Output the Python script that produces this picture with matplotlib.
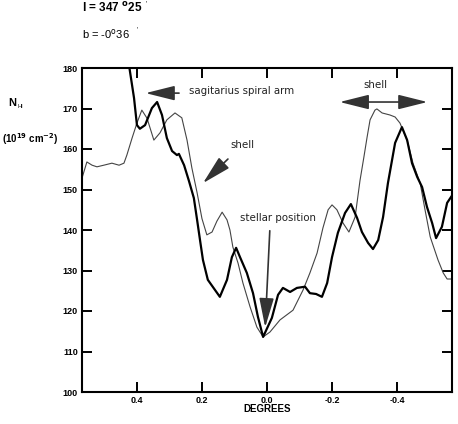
import numpy as np
import matplotlib.pyplot as plt

# thin profile (offset in degrees, N_HI in 1e19 cm^-2)
thin_x = [0.569, 0.554, 0.538, 0.523, 0.502, 0.477, 0.455, 0.440, 0.431, 0.415,
          0.400, 0.385, 0.369, 0.348, 0.329, 0.308, 0.283, 0.262, 0.246, 0.231,
          0.215, 0.200, 0.185, 0.169, 0.154, 0.138, 0.123, 0.114, 0.105, 0.089,
          0.074, 0.052, 0.031, 0.012, -0.009, -0.040, -0.080, -0.111, -0.132, -0.154,
          -0.172, -0.188, -0.200, -0.215, -0.234, -0.252, -0.271, -0.286, -0.298, -0.308,
          -0.317, -0.332, -0.338, -0.354, -0.378, -0.394, -0.409, -0.431, -0.449, -0.471,
          -0.486, -0.502, -0.526, -0.542, -0.554, -0.569]
thin_y = [152.8, 156.8, 156.0, 155.6, 156.0, 156.5, 156.0, 156.5, 158.5, 162.7,
          166.4, 169.6, 167.6, 162.2, 164.0, 167.2, 168.9, 167.7, 162.2, 155.3,
          149.2, 142.8, 138.8, 139.5, 142.2, 144.4, 142.5, 140.0, 135.8, 131.8,
          126.9, 121.0, 116.0, 113.6, 114.8, 117.8, 120.2, 125.2, 129.4, 134.3,
          140.5, 145.0, 146.2, 145.0, 141.7, 139.5, 143.2, 152.2, 158.0, 163.0,
          167.2, 169.6, 169.9, 168.9, 168.4, 167.9, 166.4, 162.2, 156.5, 151.6,
          145.0, 138.3, 132.6, 129.4, 127.9, 127.9]

# thick profile
thick_x = [0.425, 0.409, 0.400, 0.391, 0.375, 0.354, 0.338, 0.323, 0.308, 0.292,
           0.277, 0.271, 0.255, 0.240, 0.225, 0.215, 0.206, 0.197, 0.182, 0.160,
           0.145, 0.123, 0.108, 0.095, 0.083, 0.062, 0.043, 0.028, 0.012, -0.015,
           -0.034, -0.049, -0.071, -0.092, -0.117, -0.132, -0.151, -0.169, -0.185, -0.200,
           -0.218, -0.240, -0.258, -0.277, -0.292, -0.311, -0.326, -0.342, -0.357, -0.372,
           -0.394, -0.415, -0.431, -0.446, -0.462, -0.477, -0.492, -0.508, -0.520, -0.538,
           -0.554, -0.569]
thick_y = [181.0, 172.6, 165.9, 165.0, 165.9, 170.1, 171.6, 168.4, 162.7, 159.5,
           158.5, 158.8, 156.0, 152.1, 147.9, 142.5, 137.5, 132.6, 127.7, 125.2,
           123.5, 127.7, 133.3, 135.6, 133.3, 129.4, 124.4, 118.6, 113.6, 118.3,
           124.0, 125.7, 124.7, 125.7, 126.0, 124.4, 124.2, 123.5, 126.9, 133.3,
           139.3, 144.2, 146.4, 143.0, 139.5, 136.8, 135.3, 137.5, 143.2, 151.6,
           161.5, 165.4, 162.2, 156.5, 153.1, 150.6, 145.7, 141.7, 138.0, 140.8,
           146.7, 148.5]

xticks = [0.4, 0.2, 0.0, -0.2, -0.4]
xtick_labels = ['0.4', '0.2', '0.0', '-0.2', '-0.4']
yticks = [100, 110, 120, 130, 140, 150, 160, 170, 180]

plt.rcParams['font.family'] = ['Liberation Sans', 'DejaVu Sans']

fig = plt.figure(figsize=(4.58, 4.24), dpi=100)
ax = fig.add_axes([82 / 458, 1 - 392 / 424, 370 / 458, 324 / 424])

ax.plot(thin_x, thin_y, color='#444444', lw=0.8)
ax.plot(thick_x, thick_y, color='black', lw=1.6)

ax.set_xlim(0.569, -0.569)
ax.set_ylim(100, 180)
ax.set_xticks(xticks)
ax.set_xticklabels(xtick_labels, fontsize=6.5, fontweight='bold')
ax.set_yticks(yticks)
ax.set_yticklabels([str(v) for v in yticks], fontsize=6.5, fontweight='bold')
ax.tick_params(direction='in', length=7, width=1.4, top=True, right=True, pad=3)
for s in ax.spines.values():
    s.set_linewidth(1.5)
ax.set_xlabel('DEGREES', fontsize=7, fontweight='bold', labelpad=-1)

arrow_kw = dict(arrowstyle='-|>,head_length=1.8,head_width=0.45', color='#333333', lw=1.2)
double_kw = dict(arrowstyle='<|-|>,head_length=1.8,head_width=0.45', color='#333333', lw=1.2)
note = dict(fontsize=7.4, family='DejaVu Sans', color='#222222')

# annotations
ax.annotate('', xy=(0.382, 173.8), xytext=(0.262, 173.8), arrowprops=arrow_kw)
ax.text(0.24, 174.3, 'sagitarius spiral arm', va='center', ha='left', **note)

ax.text(0.077, 161, 'shell', va='center', ha='center', **note)
ax.annotate('', xy=(0.203, 151.1), xytext=(0.114, 158), arrowprops=arrow_kw)

ax.text(0.083, 143, 'stellar position', va='center', ha='left', **note)
ax.annotate('', xy=(0.006, 115.3), xytext=(-0.009, 140.5), arrowprops=arrow_kw)

ax.text(-0.332, 175.8, 'shell', va='center', ha='center', **note)
ax.annotate('', xy=(-0.215, 171.6), xytext=(-0.502, 171.6), arrowprops=double_kw)

# header text
fig.text(82 / 458, 1 - 8 / 424, r"l = 347 $^{\mathbf{o}}$25", fontsize=8.5,
         fontweight='bold', va='center')
fig.text(146 / 458, 1 - 4 / 424, "'", fontsize=5, va='center')
fig.text(82 / 458, 1 - 34 / 424, r"b = -0$^{\mathrm{o}}$36", fontsize=8, va='center')
fig.text(137 / 458, 1 - 30 / 424, "'", fontsize=5, va='center')

# y label
fig.text(8 / 458, 1 - 103 / 424, 'N', fontsize=8, fontweight='bold', va='center')
fig.text(17 / 458, 1 - 106 / 424, 'HI', fontsize=4, va='center')
fig.text(2 / 458, 1 - 139 / 424, r'(10$^{\mathbf{19}}$ cm$^{\mathbf{-2}}$)',
         fontsize=7, fontweight='bold', va='center')

fig.savefig('out.png', dpi=100)
